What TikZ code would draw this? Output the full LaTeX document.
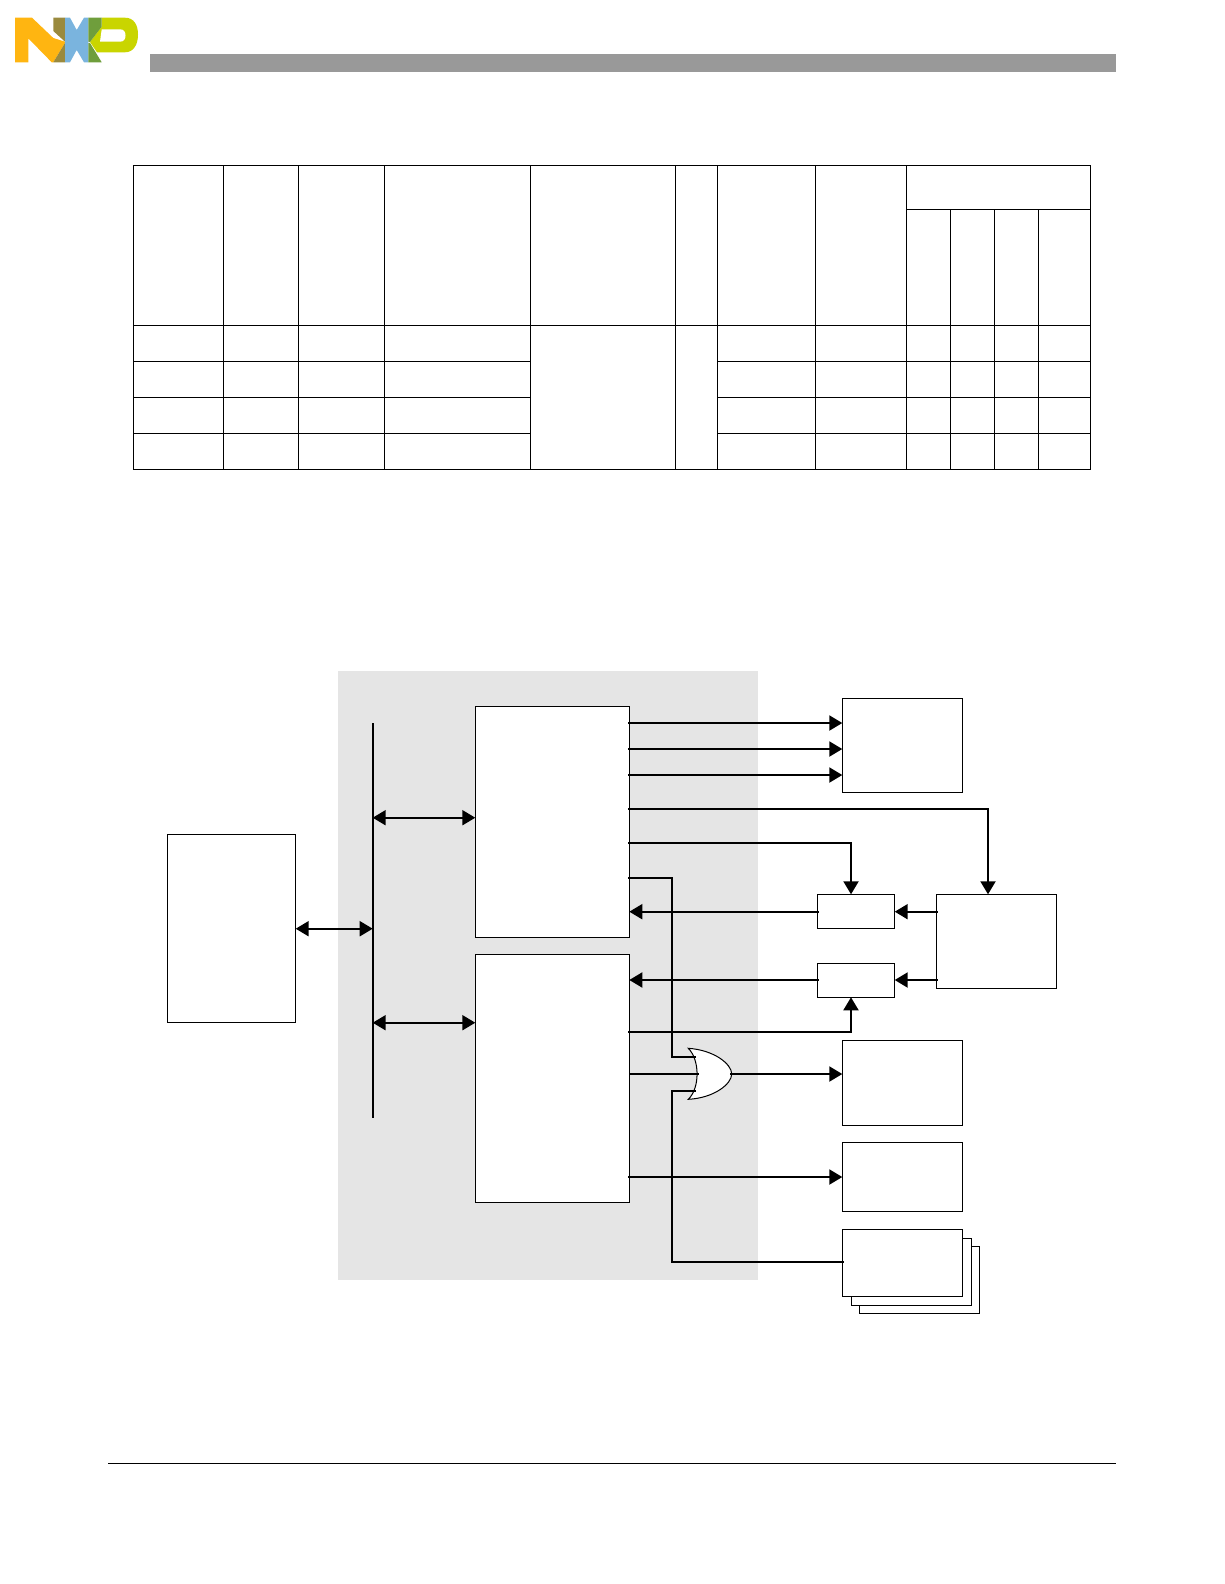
\documentclass[tikz,border=0pt]{standalone}
\usepackage{xcolor}
\usepackage{tikz}
\usetikzlibrary{arrows.meta, positioning, calc}
\definecolor{logoorange}{HTML}{FFB511}
\definecolor{logoolive}{HTML}{9A8A3E}
\definecolor{logoblue}{HTML}{7AB4DE}
\definecolor{logogreen}{HTML}{6F9E3C}
\definecolor{logolime}{HTML}{C9D500}

\begin{document}
\begin{tikzpicture}[
    x=1pt, y=-1pt,
    block/.style={draw, line width=1pt, fill=white, inner sep=0pt, outer sep=0pt, anchor=north west},
    gridline/.style={line width=1pt},
    sig/.style={-{Triangle[length=13pt, width=15pt]}, line width=2pt, shorten <=-1.3pt},
    dsig/.style={{Triangle[length=13pt, width=15pt]}-{Triangle[length=13pt, width=15pt]}, line width=2pt},
    wire/.style={line width=2pt}
]
\useasboundingbox (0,0) rectangle (1224,1584);

\fill[logoorange] (15,17.7) -- (32,17.7) -- (53.3,38) -- (65,41.7) -- (65,43) -- (53.3,62.3) -- (51.7,62.3) -- (28.3,38.3) -- (28.3,62.3) -- (15,62.3) -- cycle;
\fill[logoolive] (53.3,17.7) -- (65,17.7) -- (65,41.7) -- (53.3,31) -- cycle;
\fill[logoolive] (65,43) -- (65,62.3) -- (53.3,62.3) -- cycle;
\fill[logoblue] (65,17.7) -- (70,17.7) -- (76.7,30) -- (84,17.7) -- (88.3,17.7) -- (88.3,62.3) -- (84,62.3) -- (76.7,50) -- (70,62.3) -- (65,62.3) -- cycle;
\fill[logolime] (101.7,17.7) -- (125,17.7) .. controls (134,17.7) and (138,25) .. (138,34.5) .. controls (138,44) and (134,52.3) .. (125,52.3) -- (97,52.3) -- (90,42) -- (101.7,26.7) -- cycle;
\fill[white] (101.7,29.3) -- (120,29.3) .. controls (124,29.3) and (125.5,32) .. (125.5,35.5) .. controls (125.5,39) and (124,41.7) .. (120,41.7) -- (100,41.7) -- cycle;
\fill[logogreen] (88.3,17.7) -- (101.7,17.7) -- (101.7,26.7) -- (90,42) -- (88.3,41.7) -- cycle;
\fill[logogreen] (88.3,43) -- (90,43) -- (101.7,62.3) -- (88.3,62.3) -- cycle;

\fill[black!40] (149.7,54) rectangle (1116,71.7);
\draw[line width=1pt] (108,1463) -- (1116,1463);

\foreach \tx in {133.4, 223.3, 298.3, 384.4, 530.2, 675.3, 717.3, 815.3, 906.3, 1090.3}
    \draw[gridline] (\tx,165.3) -- (\tx,469.3);
\foreach \tx in {950.3, 994.3, 1038.3}
    \draw[gridline] (\tx,209.3) -- (\tx,469.3);
\foreach \ty in {165.3, 325.3, 469.3}
    \draw[gridline] (132.9,\ty) -- (1090.8,\ty);
\foreach \ty in {361.3, 397.3, 433.3} {
    \draw[gridline] (133.4,\ty) -- (530.2,\ty);
    \draw[gridline] (717.3,\ty) -- (1090.3,\ty);
}
\draw[gridline] (906.3,209.3) -- (1090.3,209.3);

\node[anchor=north west, fill=black!10, minimum width=420pt, minimum height=609.2pt, inner sep=0pt] (chipback) at (338,670.8) {};

\node[block, minimum width=128.4pt, minimum height=188pt] (hostbox) at (167.3,834.3) {};
\node[block, minimum width=154pt, minimum height=231pt] (upperblock) at (475.3,706.3) {};
\node[block, minimum width=154pt, minimum height=248pt, below right=17pt and 0pt of upperblock.south west] (lowerblock) {};
\node[block, minimum width=120pt, minimum height=94pt] (outa) at (842.3,698.3) {};
\node[block, minimum width=120.4pt, minimum height=94pt] (ctrlbox) at (936.3,894.3) {};
\node[block, anchor=north east, minimum width=77.4pt, minimum height=34pt, below left=0pt and 41.6pt of ctrlbox.north west] (muxa) {};
\node[block, minimum width=77.4pt, minimum height=34pt, below=35pt of muxa] (muxb) {};
\node[block, minimum width=120pt, minimum height=85pt, below right=248pt and 0pt of outa.south west] (outc) {};
\node[block, minimum width=120pt, minimum height=69pt, below=17pt of outc] (outd) {};
\node[block, minimum width=120.4pt, minimum height=67pt, below right=35pt and 17pt of outd.south west] (stackc) {};
\node[block, minimum width=120.4pt, minimum height=67pt] (stackb) at ($(stackc.north west)+(-8,-8)$) {};
\node[block, minimum width=120.4pt, minimum height=67pt] (stacka) at ($(stackb.north west)+(-9,-9)$) {};

\coordinate (bustop) at (372.7,723);
\coordinate (busbot) at (372.7,1117.7);
\coordinate (pa) at (842.3,723);
\coordinate (pb) at (842.3,749);
\coordinate (pc) at (842.3,775);
\coordinate (pd) at (842.3,1177);
\coordinate (ctrlin) at (988,894.3);
\coordinate (ctrlout) at (629.3,808.7);
\coordinate (muxain) at (851,894.3);
\coordinate (muxaout) at (629.3,843);
\coordinate (muxbin) at (851,997.3);
\coordinate (muxbout) at (629.3,1032);
\coordinate (gatetap) at (628,877.7);
\coordinate (hostmid) at (372.7,928.7);
\coordinate (busa) at (372.7,817.7);
\coordinate (busb) at (372.7,1022.7);
\coordinate (rowa) at (894.7,911.7);
\coordinate (rowb) at (894.7,980);
\coordinate (gateup) at (696,1057);
\coordinate (gatemid) at (698.7,1074);
\coordinate (gatelow) at (696,1090.7);
\coordinate (gateout) at (731.7,1074);
\coordinate (stackin) at (843.6,1261.7);

\draw[wire] (bustop) -- (busbot);
\draw[dsig] (hostbox.east |- hostmid) -- (hostmid);
\draw[dsig] (busa) -- (upperblock.west |- busa);
\draw[dsig] (busb) -- (lowerblock.west |- busb);
\draw[sig] (upperblock.east |- pa) -- (pa);
\draw[sig] (upperblock.east |- pb) -- (pb);
\draw[sig] (upperblock.east |- pc) -- (pc);
\draw[sig] (ctrlout) -| (ctrlin);
\draw[sig] (muxaout) -| (muxain);
\draw[sig] (muxa.west |- rowa) -- (upperblock.east |- rowa);
\draw[sig] (ctrlbox.west |- rowa) -- (rowa);
\draw[sig] (muxb.west |- rowb) -- (lowerblock.east |- rowb);
\draw[sig] (ctrlbox.west |- rowb) -- (rowb);
\draw[sig] (muxbout) -| (muxbin);
\draw[sig] (lowerblock.east |- pd) -- (pd);
\draw[line width=1pt, fill=white] (688.3,1048.3) .. controls (714,1050) and (731.7,1064) .. (gateout) .. controls (731.7,1084) and (714,1098) .. (688.3,1099.3) .. controls (700,1088) and (700,1060) .. cycle;
\draw[wire] (gatetap) -- (672,877.7) |- (gateup);
\draw[wire] (stackin) -- (672,1261.7) |- (gatelow);
\draw[wire] (lowerblock.east |- gatemid) -- (gatemid);
\draw[sig] (gateout) -- (outc.west |- gateout);
\end{tikzpicture}
\end{document}
